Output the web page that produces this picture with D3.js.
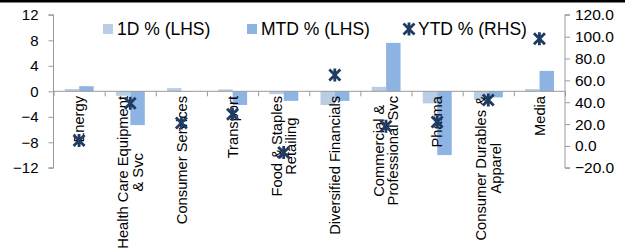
<!DOCTYPE html>
<html>
<head>
<meta charset="utf-8">
<script src="https://cdn.jsdelivr.net/npm/d3@7"></script>
<style>
  body{margin:0;background:#fff;}
  svg{display:block;font-family:"Liberation Sans",Arial,sans-serif;}
</style>
</head>
<body>
<svg id="chart"></svg>
<script>
// ---------- DATA --------------------------------------------------------
const sectors = [
  ['Energy'],
  ['Health Care Equipment','& Svc'],
  ['Consumer Services'],
  ['Transport'],
  ['Food & Staples','Retailing'],
  ['Diversified Financials'],
  ['Commercial &','Professional Svc'],
  ['Pharma'],
  ['Consumer Durables &','Apparel'],
  ['Media']
];
const oneDay = [0.35, -0.7, 0.5, 0.3, -0.45, -2.15, 0.7, -1.9, -1.35, 0.35];
const mtd    = [0.8, -5.3, -0.05, -2.15, -1.5, -1.5, 7.6, -10.0, -0.95, 3.2];
const ytd    = [5, 39, 21, 29, -6, 65, 18, 22, 42, 98];
const leftTicks  = [-12, -8, -4, 0, 4, 8, 12];
const rightTicks = [-20, 0, 20, 40, 60, 80, 100, 120];

// ---------- LAYOUT ------------------------------------------------------
const W = 625, H = 252;
const X0 = 53.5, X1 = 565, YT = 14.8, YB = 167.8;
const C = {d1:'#B9CDE5', mtd:'#8EB4E3', ytd:'#1F3B63', axis:'#9A9A9A'};

const svg = d3.select('#chart').attr('width', W).attr('height', H);

// black strip at top
svg.append('rect').attr('x',0).attr('y',0).attr('width',W).attr('height',2.5).attr('fill','#000');

const idx = sectors.map((d,i)=>i);
const x0 = d3.scaleBand().domain(idx).range([X0, X1]);
const bw = x0.bandwidth();
const x1 = d3.scaleBand().domain(['d1','mtd']).range([bw*0.22, bw*0.785]);
const yL = d3.scaleLinear().domain([-12,12]).range([YB, YT]);
const yR = d3.scaleLinear().domain([-20,120]).range([YB, YT]);

// bars
const rows = idx.map(i=>({i, d1:oneDay[i], mtd:mtd[i]}));
const grp = svg.append('g');
['d1','mtd'].forEach(k=>{
  grp.selectAll('rect.'+k).data(rows).enter().append('rect')
    .attr('class',k)
    .attr('x', d=>x0(d.i)+x1(k))
    .attr('width', x1.bandwidth())
    .attr('y', d=>yL(Math.max(0,d[k])))
    .attr('height', d=>Math.abs(yL(d[k])-yL(0)))
    .attr('fill', C[k]);
});

// left axis
const axL = svg.append('g').attr('transform',`translate(${X0},0)`)
  .call(d3.axisLeft(yL).tickValues(leftTicks).tickSize(5).tickPadding(10).tickFormat(d3.format('d')));
// right axis
const axR = svg.append('g').attr('transform',`translate(${X1},0)`)
  .call(d3.axisRight(yR).tickValues(rightTicks).tickSize(5).tickPadding(9).tickFormat(d3.format('.1f')));
[axL, axR].forEach(a=>{
  a.select('.domain').attr('stroke',C.axis).attr('d', a===axL
     ? `M-5,${YT}H0V${YB}H-5` : `M5,${YT}H0V${YB}H5`);
  a.selectAll('.tick line').attr('stroke',C.axis);
  a.selectAll('.tick text').attr('fill','#000').style('font-size','15px')
   .style('font-family','"Liberation Sans",Arial,sans-serif');
});
axR.selectAll('.tick text').attr('x', 10).style('font-size','15.5px');

// zero line with category ticks
const axX = svg.append('g').attr('transform',`translate(0,${yL(0)})`)
  .call(d3.axisBottom(d3.scaleLinear().domain([0,sectors.length]).range([X0,X1]))
        .tickValues(d3.range(0,sectors.length+1)).tickSize(5).tickFormat(''));
axX.select('.domain').attr('stroke',C.axis).attr('d',`M${X0},0H${X1}`);
axX.selectAll('.tick line').attr('stroke',C.axis);

// category labels
const LH = 14.5, TOP = 96;
sectors.forEach((lines,i)=>{
  const g = svg.append('g')
    .attr('transform',`translate(${x0(i)+bw/2},${TOP}) rotate(-90)`);
  const t = g.selectAll('text').data(lines).enter().append('text')
    .attr('text-anchor','middle')
    .attr('y',(d,j)=>(j-(lines.length-1)/2)*LH)
    .attr('dy','0.35em')
    .style('font-size','14.7px')
    .text(d=>d);
  const maxLen = d3.max(t.nodes(), n=>n.getComputedTextLength());
  t.attr('x', -maxLen/2);
});

// YTD markers
function star(sel, s){
  sel.append('path')
    .attr('d',`M${-s},${-s}L${s},${s}M${-s},${s}L${s},${-s}M0,${-s-1}L0,${s+1}`)
    .attr('stroke',C.ytd).attr('stroke-width',2.8).attr('fill','none');
}
svg.selectAll('g.ytd').data(idx).enter().append('g').attr('class','ytd')
  .attr('transform', i=>`translate(${x0(i)+bw/2},${yR(ytd[i])})`)
  .each(function(){ star(d3.select(this), 5.5); });

// legend
const LY = 29;
const leg = svg.append('g').style('font-size','17.5px');
leg.append('rect').attr('x',103).attr('y',LY-5).attr('width',10).attr('height',10).attr('fill',C.d1);
leg.append('text').attr('x',117).attr('y',LY).attr('dy','0.35em').text('1D % (LHS)');
leg.append('rect').attr('x',247).attr('y',LY-5).attr('width',10).attr('height',10).attr('fill',C.mtd);
leg.append('text').attr('x',261).attr('y',LY).attr('dy','0.35em').text('MTD % (LHS)');
star(leg.append('g').attr('transform',`translate(409,${LY})`), 5.5);
leg.append('text').attr('x',418).attr('y',LY).attr('dy','0.35em').text('YTD % (RHS)');
</script>
</body>
</html>
